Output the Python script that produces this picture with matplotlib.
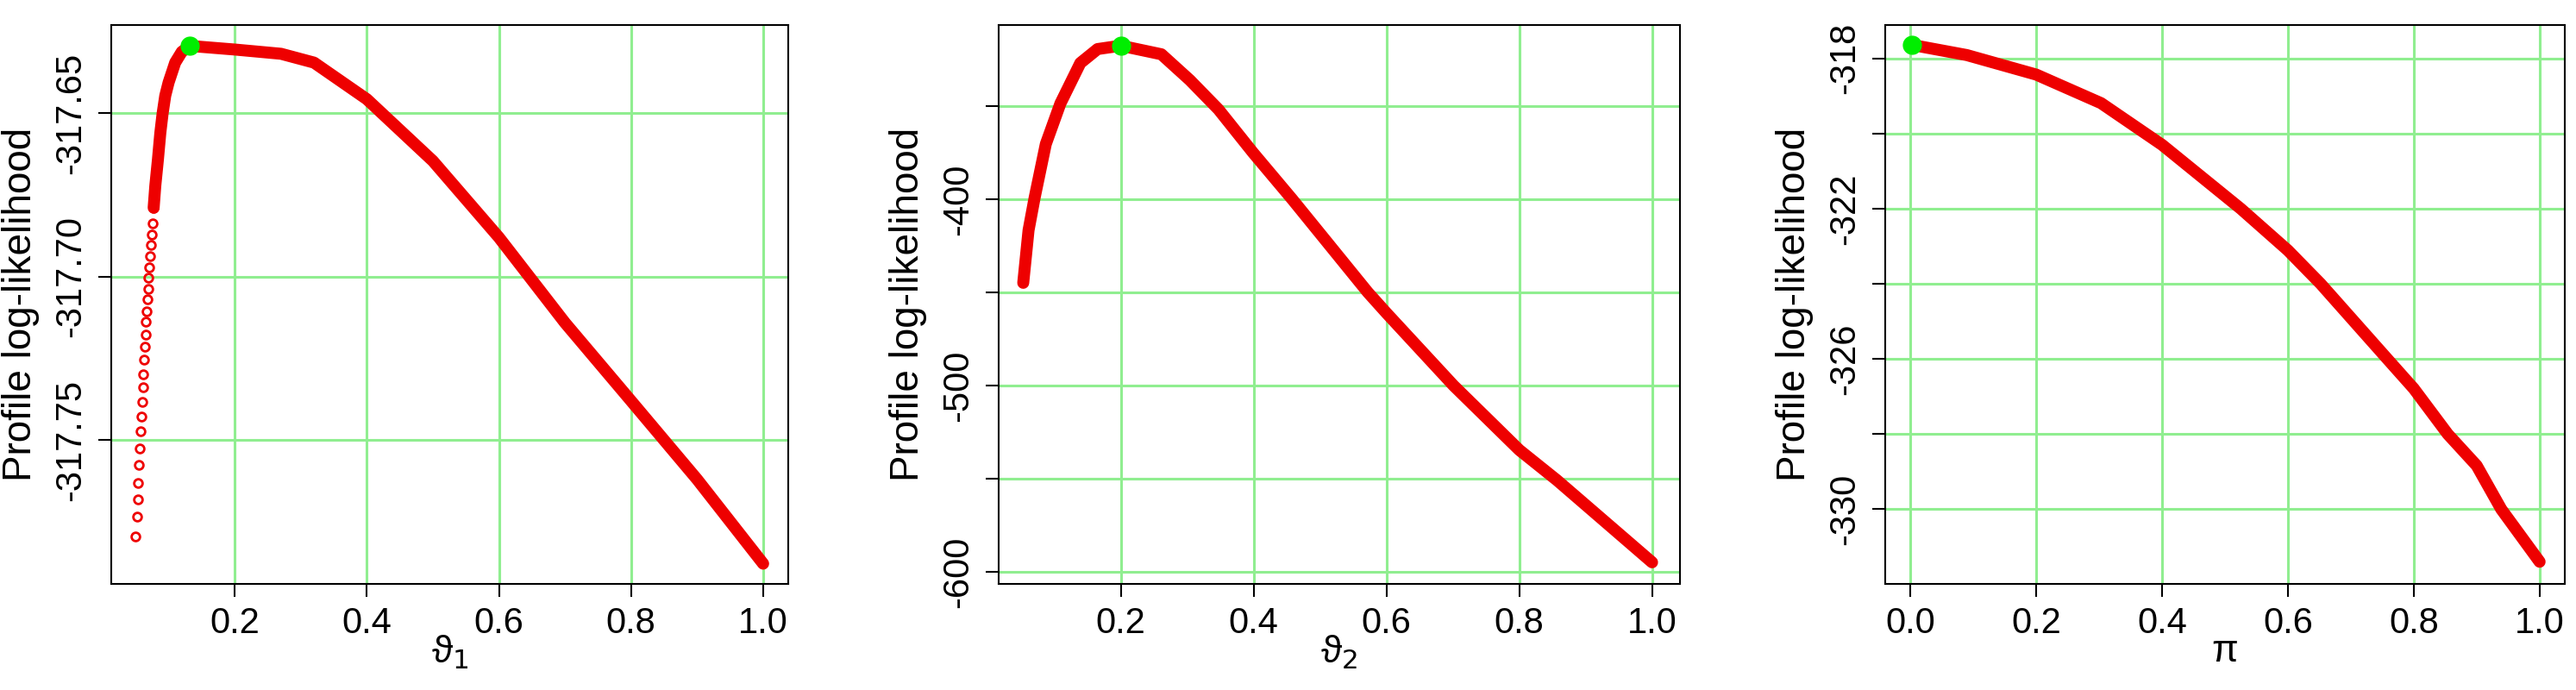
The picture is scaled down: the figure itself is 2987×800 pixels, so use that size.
import numpy as np
import matplotlib.pyplot as plt

plt.rcParams['font.family'] = ['Liberation Sans', 'DejaVu Sans']
plt.rcParams['mathtext.fontset'] = 'dejavusans'

# panel 1: theta_1 (sparse circles in steep part, then dense band)
t1_sparse = [0.0496, 0.0521, 0.0531, 0.0536, 0.0546, 0.0556, 0.0571, 0.0587, 0.0597,
             0.0607, 0.0617, 0.0627, 0.0637, 0.0647, 0.0657, 0.0667, 0.0677, 0.0687,
             0.0697, 0.0707, 0.0722, 0.0732, 0.0747, 0.0757, 0.0772]
ll1_sparse = [-317.7796, -317.7734, -317.7682, -317.7631, -317.7577, -317.7526, -317.7473,
              -317.7429, -317.7382, -317.7338, -317.7298, -317.7254, -317.7213, -317.7177,
              -317.7139, -317.7106, -317.7069, -317.7038, -317.7004, -317.6971, -317.6937,
              -317.6904, -317.6870, -317.6836, -317.6789]
t1 = [0.0772, 0.0797, 0.0837, 0.0873, 0.0908, 0.0948, 0.0998, 0.1098, 0.1198, 0.1323,
      0.2, 0.27, 0.32, 0.4, 0.5, 0.6, 0.7, 0.8, 0.9, 1.0]
ll1 = [-317.6789, -317.6722, -317.6641, -317.656, -317.65, -317.6446, -317.6406, -317.6345,
       -317.6312, -317.6294, -317.6305, -317.6318, -317.6345, -317.6457, -317.6646,
       -317.688, -317.7141, -317.738, -317.762, -317.7878]
max1 = (0.1323, -317.6294)

# panel 2: theta_2
t2 = [0.053, 0.061, 0.070, 0.087, 0.109, 0.139, 0.165, 0.2, 0.261, 0.304, 0.347, 0.399,
      0.458, 0.572, 0.6, 0.701, 0.8, 0.857, 1.0]
ll2 = [-444.9, -416.7, -399.5, -370.4, -348.6, -326.9, -319.4, -317.6, -322.2, -336.1,
       -351.8, -375.0, -400.0, -450.0, -461.1, -500.0, -534.6, -550.9, -594.9]
max2 = (0.2, -317.6)

# panel 3: pi
p3 = [0.0027, 0.0896, 0.2, 0.303, 0.4, 0.525, 0.6, 0.652, 0.758, 0.8, 0.854, 0.9, 0.939, 1.0]
ll3 = [-317.64, -317.91, -318.43, -319.19, -320.3, -322.0, -323.11, -324.0, -326.0,
       -326.79, -328.0, -328.84, -330.0, -331.4]
max3 = (0.0027, -317.64)

red = '#EE0000'
grn = '#00EE00'
grid_c = '#90EE90'

fig = plt.figure(figsize=(29.87, 8), dpi=100)
W, H = 2987, 800
boxes = [(129, 914), (1158, 1948), (2186, 2974)]
top, bot = 29, 677

def make_ax(x0, x1):
    return fig.add_axes([x0 / W, 1 - bot / H, (x1 - x0) / W, (bot - top) / H])

axes = [make_ax(*b) for b in boxes]

ax = axes[0]
ax.plot(t1, ll1, '-', color=red, lw=10, solid_capstyle='round', zorder=3)
ax.plot(t1_sparse, ll1_sparse, 'o', mfc='none', mec=red, ms=7, mew=2, zorder=3)
ax.plot(*max1, 'o', color=grn, ms=15, zorder=4)
ax.set_xlim(0.013, 1.038)
ax.set_ylim(-317.794, -317.623)
ax.set_xticks([0.2, 0.4, 0.6, 0.8, 1.0])
ax.set_yticks([-317.75, -317.70, -317.65])
ax.set_yticklabels(['-317.75', '-317.70', '-317.65'])
ax.set_xlabel('ϑ$_1$', fontsize=32, labelpad=-6)

ax = axes[1]
ax.plot(t2, ll2, '-', color=red, lw=10, solid_capstyle='round', zorder=3)
ax.plot(*max2, 'o', color=grn, ms=15, zorder=4)
ax.set_xlim(0.016, 1.042)
ax.set_ylim(-606.5, -306.5)
ax.set_xticks([0.2, 0.4, 0.6, 0.8, 1.0])
ax.set_yticks([-600, -550, -500, -450, -400, -350])
ax.set_yticklabels(['-600', '', '-500', '', '-400', ''])
ax.set_xlabel('ϑ$_2$', fontsize=32, labelpad=-6)

ax = axes[2]
ax.plot(p3, ll3, '-', color=red, lw=10, solid_capstyle='round', zorder=3)
ax.plot(*max3, 'o', color=grn, ms=15, zorder=4)
ax.set_xlim(-0.04, 1.04)
ax.set_ylim(-331.99, -317.11)
ax.set_xticks([0.0, 0.2, 0.4, 0.6, 0.8, 1.0])
ax.set_yticks([-330, -328, -326, -324, -322, -320, -318])
ax.set_yticklabels(['-330', '', '-326', '', '-322', '', '-318'])
ax.set_xlabel('π', fontsize=32, labelpad=-6)

for ax in axes:
    ax.grid(True, color=grid_c, lw=2.2, zorder=1)
    ax.tick_params(axis='both', labelsize=30, length=11, width=1.5, pad=8)
    plt.setp(ax.get_yticklabels(), rotation=90, va='center')
    ax.set_ylabel('Profile log-likelihood', fontsize=33, labelpad=12)
    for s in ax.spines.values():
        s.set_linewidth(1.5)

fig.savefig('out.png', dpi=100)
